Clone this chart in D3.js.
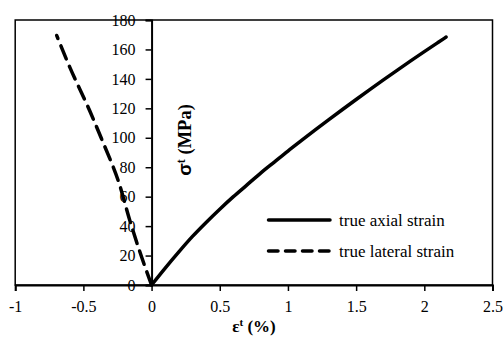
<!DOCTYPE html>
<html>
<head>
<meta charset="utf-8">
<script src="https://cdn.jsdelivr.net/npm/d3@7"></script>
<style>
  body { margin: 0; background: #fff; }
  svg text { font-family: 'Liberation Serif'; fill: #000; }
</style>
</head>
<body>
<svg id="chart" width="504" height="339"></svg>
<script>
// axial strain (%) vs stress (MPa)
var axialStrain = [0, 0.1, 0.2, 0.3, 0.4, 0.5, 0.6, 0.7, 0.8, 0.9, 1.0, 1.1, 1.2, 1.3, 1.4, 1.5, 1.6, 1.7, 1.8, 1.9, 2.0, 2.1, 2.16];
var axialStress = [0, 11.5, 22.5, 33, 42.5, 51.5, 60, 68, 76, 83.5, 91, 98.2, 105.3, 112.3, 119.2, 126, 132.7, 139.3, 145.8, 152.2, 158.5, 164.7, 168.4];

// lateral strain (%) vs stress (MPa)
var lateralStrain = [0, -0.073, -0.16, -0.245, -0.37, -0.452, -0.6, -0.696];
var lateralStress = [0, 19, 44, 71, 100, 118, 148, 169.5];

var xTicks = [-1, -0.5, 0, 0.5, 1, 1.5, 2, 2.5];
var yTicks = [0, 20, 40, 60, 80, 100, 120, 140, 160, 180];
var seriesNames = ['true axial strain', 'true lateral strain'];

var svg = d3.select('#chart');
var W = +svg.attr('width'), H = +svg.attr('height');
var margin = { top: 20, right: 11.5, bottom: 54, left: 15.2 };
var width = W - margin.left - margin.right;
var height = H - margin.top - margin.bottom;

var g = svg.append('g').attr('transform', 'translate(' + margin.left + ',' + margin.top + ')');

var x = d3.scaleLinear().domain([-1, 2.5]).range([0, width]);
var y = d3.scaleLinear().domain([0, 180]).range([height, 0]);

// plot frame
g.append('rect')
  .attr('x', 0).attr('y', 0)
  .attr('width', width).attr('height', height)
  .attr('fill', 'none').attr('stroke', '#000').attr('stroke-width', 1.5);

// y axis sits at x = 0
var yAxis = g.append('g')
  .attr('transform', 'translate(' + x(0) + ',0)')
  .call(d3.axisLeft(y).tickValues(yTicks).tickSizeOuter(0).tickSize(6).tickPadding(10));

// x axis at bottom
var xAxis = g.append('g')
  .attr('transform', 'translate(0,' + height + ')')
  .call(d3.axisBottom(x).tickValues(xTicks).tickSizeOuter(0).tickSize(6).tickPadding(10)
    .tickFormat(function(d) { return String(d); }));

[xAxis, yAxis].forEach(function(a) {
  a.attr('font-family', null).attr('font-size', null);
  a.select('.domain').attr('stroke', '#000').attr('stroke-width', 2);
  a.selectAll('.tick line').attr('stroke', '#000').attr('stroke-width', 1.5);
  a.selectAll('.tick text')
    .attr('fill', '#000')
    .style('font-family', 'Liberation Serif')
    .style('font-size', '16px');
});

// lines
var axialData = axialStrain.map(function(d, i) { return [d, axialStress[i]]; });
var lateralData = lateralStrain.map(function(d, i) { return [d, lateralStress[i]]; });

var line = d3.line()
  .x(function(d) { return x(d[0]); })
  .y(function(d) { return y(d[1]); });

g.append('path')
  .datum(axialData)
  .attr('d', line.curve(d3.curveMonotoneX))
  .attr('fill', 'none')
  .attr('stroke', '#000')
  .attr('stroke-width', 3.5)
  .attr('stroke-linecap', 'round');

g.append('path')
  .datum(lateralData)
  .attr('d', line.curve(d3.curveMonotoneY))
  .attr('fill', 'none')
  .attr('stroke', '#000')
  .attr('stroke-width', 3.5)
  .attr('stroke-linecap', 'round')
  .attr('stroke-dasharray', '14,8');

// legend
var legend = svg.append('g').attr('transform', 'translate(267,220)');
seriesNames.forEach(function(name, i) {
  var row = legend.append('g').attr('transform', 'translate(0,' + (i * 31) + ')');
  row.append('line')
    .attr('x1', 1.5).attr('x2', 63)
    .attr('y1', 0).attr('y2', 0)
    .attr('stroke', '#000')
    .attr('stroke-width', 3.5)
    .attr('stroke-linecap', 'round')
    .attr('stroke-dasharray', i === 1 ? '9.5,7.5' : null);
  row.append('text')
    .attr('x', 72).attr('y', 6)
    .style('font-size', '17px')
    .text(name);
});

// x axis title
var xt = svg.append('text')
  .attr('x', 254).attr('y', 332)
  .attr('text-anchor', 'middle')
  .style('font-size', '17px')
  .style('font-weight', 'bold');
xt.append('tspan').text('\u03b5');
xt.append('tspan').attr('dy', -6).style('font-size', '11px').text('t');
xt.append('tspan').attr('dy', 6).text(' (%)');

// y axis title
var yt = svg.append('text')
  .attr('transform', 'translate(191,140) rotate(-90)')
  .attr('text-anchor', 'middle')
  .style('font-size', '18.5px')
  .style('font-weight', 'bold');
yt.append('tspan').style('font-family', 'Liberation Sans').text('\u03c3');
yt.append('tspan').attr('dy', -6).style('font-size', '12px').text('t');
yt.append('tspan').attr('dy', 6).text(' (MPa)');
</script>
</body>
</html>
